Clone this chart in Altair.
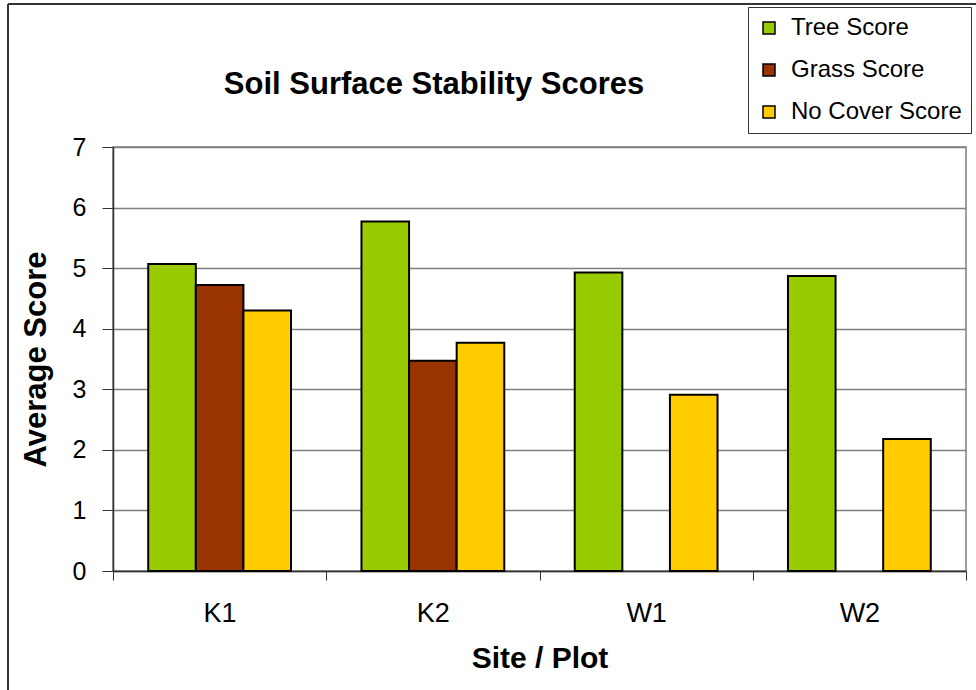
import altair as alt
import pandas as pd

# Average soil surface stability score per site/plot and cover type
sites = ["K1", "K2", "W1", "W2"]
series = ["Tree Score", "Grass Score", "No Cover Score"]
tree_score = [5.07, 5.77, 4.93, 4.87]
grass_score = [4.72, 3.47, None, None]
no_cover_score = [4.30, 3.77, 2.91, 2.18]
colors = ["#99CC00", "#993300", "#FFCC00"]
chart_title = "Soil Surface Stability Scores"

rows = []
for i, site in enumerate(sites):
    for name, vals in zip(series, [tree_score, grass_score, no_cover_score]):
        if vals[i] is not None:
            rows.append({"site": site, "series": name, "score": vals[i]})
df = pd.DataFrame(rows)

FONT = "Liberation Sans"
W, H = 853, 424

bars = alt.Chart(df).mark_bar(stroke="black", strokeWidth=2).encode(
    x=alt.X(
        "site:N",
        sort=sites,
        scale=alt.Scale(paddingInner=0, paddingOuter=0),
        axis=alt.Axis(
            title="Site / Plot",
            labelAngle=0,
            tickBand="extent",
            tickSize=9,
            tickColor="#333333",
            domainColor="#333333",
            domainWidth=1.5,
            labelFontSize=27,
            labelPadding=20,
            titleFontSize=30,
            titleFontWeight="bold",
            titlePadding=17,
            grid=False,
        ),
    ),
    xOffset=alt.XOffset(
        "series:N",
        sort=series,
        scale=alt.Scale(domain=series, paddingInner=0, paddingOuter=0.74),
    ),
    y=alt.Y(
        "score:Q",
        scale=alt.Scale(domain=[0, 7], nice=False),
        axis=alt.Axis(
            title="Average Score",
            values=list(range(8)),
            tickSize=11,
            tickColor="#333333",
            domainColor="#333333",
            domainWidth=1.5,
            labelFontSize=25,
            labelPadding=16,
            titleFontSize=31,
            titleFontWeight="bold",
            titlePadding=20,
            gridColor="#808080",
            gridWidth=1.5,
        ),
    ),
    color=alt.Color(
        "series:N",
        sort=series,
        scale=alt.Scale(domain=series, range=colors),
        legend=alt.Legend(
            title=None,
            orient="none",
            legendX=635,
            legendY=-140,
            strokeColor="#333333",
            fillColor="white",
            padding=9,
            symbolType="square",
            symbolSize=144,
            symbolStrokeColor="black",
            symbolStrokeWidth=1.5,
            labelFontSize=24,
            labelOffset=10,
            labelLimit=300,
            rowPadding=18,
        ),
    ),
)

# Chart heading, set above the plot to the left of the legend box
heading = alt.Chart(pd.DataFrame({"t": [chart_title]})).mark_text(
    font=FONT, fontSize=31, fontWeight="bold", color="black",
    align="center", baseline="alphabetic",
).encode(text="t:N", x=alt.value(321), y=alt.value(-53))

# Outer frame edges along the top and left of the figure
frame_src = pd.DataFrame({"k": [0]})
frame_left = alt.Chart(frame_src).mark_rule(color="#333333", strokeWidth=2).encode(
    x=alt.value(-105), y=alt.value(-143), y2=alt.value(H + 200)
)
frame_top = alt.Chart(frame_src).mark_rule(color="#333333", strokeWidth=2).encode(
    x=alt.value(-105), x2=alt.value(W + 200), y=alt.value(-143)
)

chart = alt.layer(bars, heading, frame_left, frame_top).properties(
    width=W,
    height=H,
    autosize=alt.AutoSizeParams(type="none"),
    padding={"left": 113, "top": 147, "right": 10, "bottom": 119},
).configure(
    font=FONT,
    background="white",
).configure_view(
    stroke="#808080", strokeWidth=1.5
).configure_axis(
    labelFont=FONT, titleFont=FONT, labelColor="black", titleColor="black"
).configure_legend(
    labelFont=FONT, labelColor="black"
)

chart.save("out.html", embed_options={"renderer": "svg", "actions": False})
